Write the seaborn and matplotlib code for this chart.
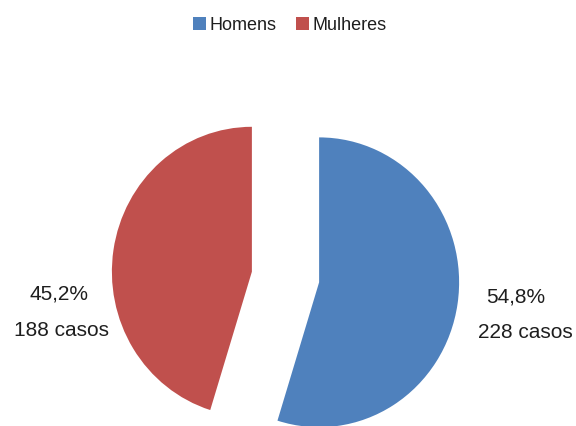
import matplotlib
matplotlib.use("Agg")
import matplotlib.pyplot as plt
import seaborn as sns

# Distribution of cases by sex
categorias = ["Homens", "Mulheres"]
casos = [228, 188]
cores = ["#4F81BD", "#C0504D"]

sns.set_theme(style="white")
plt.rcParams["font.family"] = ["Liberation Sans", "DejaVu Sans"]

W, H = 576, 426
fig = plt.figure(figsize=(W / 100, H / 100), dpi=100)
ax = fig.add_axes([0, 0, 1, 1])

total = sum(casos)
pcts = [100.0 * c / total for c in casos]

# the pie is drawn slightly taller than wide
esticar = 1.035
raio = 140
centro = (285.5, 149 / esticar)
wedges, _ = ax.pie(
    casos,
    colors=cores,
    startangle=90,
    counterclock=False,
    explode=[34, 34],
    radius=raio,
    center=centro,
    wedgeprops=dict(linewidth=0),
)
ax.set_aspect("auto")
ax.set_xlim(0, W)
ax.set_ylim(0, H / esticar)
ax.axis("off")

def rotulo(x, y, texto):
    fig.text(x / W, 1 - y / H, texto, ha="center", va="center",
             fontsize=15, color="#1e1e1e")

# Men (right side), women (left side)
rotulo(516, 297, f"{pcts[0]:.1f}%".replace(".", ","))
rotulo(525, 333, f"{casos[0]} casos")
rotulo(59, 294, f"{pcts[1]:.1f}%".replace(".", ","))
rotulo(61, 330, f"{casos[1]} casos")

fig.legend(
    wedges, categorias,
    loc="upper center", bbox_to_anchor=(0.503, 0.998),
    ncol=2, frameon=False, fontsize=13,
    handlelength=0.7, handleheight=0.7, handletextpad=0.2,
    columnspacing=1.1, labelcolor="#1e1e1e",
)

fig.savefig("out.png", dpi=100)
